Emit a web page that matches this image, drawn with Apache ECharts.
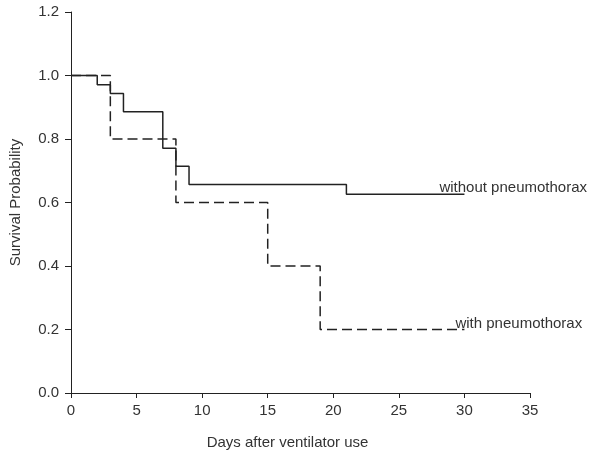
<!DOCTYPE html>
<html>
<head>
<meta charset="utf-8">
<script src="https://cdn.jsdelivr.net/npm/echarts@6/dist/echarts.min.js"></script>
<style>
  html, body { margin: 0; padding: 0; background: #fff; }
  #chart { width: 600px; height: 458px; }
</style>
</head>
<body>
<div id="chart"></div>
<script>
// Kaplan-Meier steps: [day, survival probability]
const withoutPneumoDays = [0, 2, 3, 4, 7, 8, 9, 21, 30];
const withoutPneumoSurv = [1.0, 0.971, 0.943, 0.886, 0.771, 0.714, 0.657, 0.626, 0.626];
const withPneumoDays = [0, 3, 8, 15, 19, 30];
const withPneumoSurv = [1.0, 0.8, 0.6, 0.4, 0.2, 0.2];
const xTicks = [0, 5, 10, 15, 20, 25, 30, 35];
const yTicks = [0.0, 0.2, 0.4, 0.6, 0.8, 1.0, 1.2];

const toPairs = (xs, ys) => xs.map((x, i) => [x, ys[i]]);

const chart = echarts.init(document.getElementById('chart'));

const axisText = { color: '#333', fontSize: 15, fontFamily: 'Liberation Sans, Arial, sans-serif' };

chart.setOption({
  animation: false,
  grid: { left: 70, right: 70, top: 12, bottom: 65 },
  xAxis: {
    type: 'value',
    min: xTicks[0],
    max: xTicks[xTicks.length - 1],
    interval: 5,
    name: 'Days after ventilator use',
    nameLocation: 'middle',
    nameGap: 42,
    nameTextStyle: { ...axisText, padding: [0, 26, 0, 0] },
    axisLine: { show: true, lineStyle: { color: '#222', width: 1 } },
    axisTick: { show: true, inside: false, length: 5, lineStyle: { color: '#222' } },
    axisLabel: { ...axisText, margin: 10 },
    splitLine: { show: false },
  },
  yAxis: {
    type: 'value',
    min: yTicks[0],
    max: yTicks[yTicks.length - 1],
    interval: 0.2,
    name: 'Survival Probability',
    nameLocation: 'middle',
    nameGap: 48,
    nameTextStyle: axisText,
    axisLine: { show: true, lineStyle: { color: '#222', width: 1 } },
    axisTick: { show: true, inside: false, length: 6, lineStyle: { color: '#222' } },
    axisLabel: { ...axisText, margin: 12, formatter: (v) => v.toFixed(1) },
    splitLine: { show: false },
  },
  series: [
    {
      name: 'without pneumothorax',
      type: 'line',
      step: 'end',
      symbol: 'none',
      data: toPairs(withoutPneumoDays, withoutPneumoSurv),
      lineStyle: { color: '#222', width: 1.5 },
      endLabel: {
        show: true,
        formatter: 'without pneumothorax',
        ...axisText,
        align: 'left',
        offset: [-33, -6],
      },
    },
    {
      name: 'with pneumothorax',
      type: 'line',
      step: 'end',
      symbol: 'none',
      data: toPairs(withPneumoDays, withPneumoSurv),
      lineStyle: { color: '#222', width: 1.5, type: [10, 5] },
      endLabel: {
        show: true,
        formatter: 'with pneumothorax',
        ...axisText,
        align: 'left',
        offset: [-17, -6],
      },
    },
  ],
});
</script>
</body>
</html>
